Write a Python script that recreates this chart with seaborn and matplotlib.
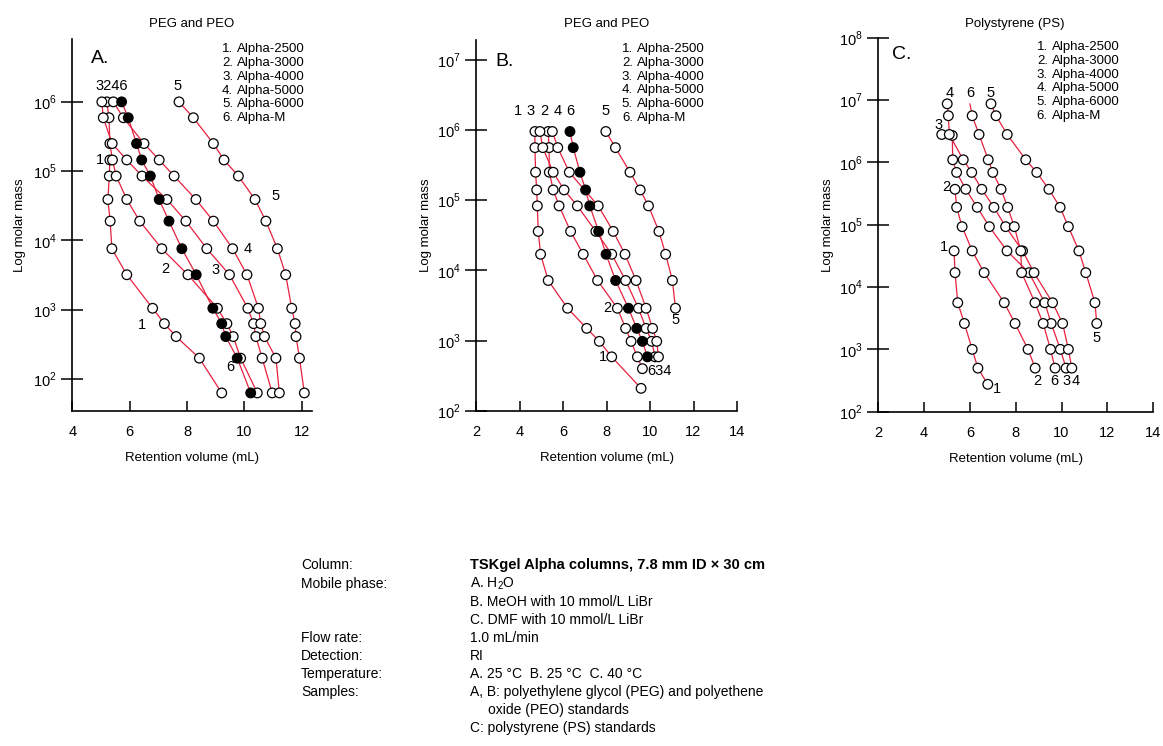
import pandas as pd
import seaborn as sns
import matplotlib.pyplot as plt
from matplotlib.ticker import NullLocator
from matplotlib.transforms import offset_copy

# molar mass levels (g/mol) and retention volumes (mL)
# panel A: PEG/PEO in water
A_MASS = [1.0e6, 5.9e5, 2.5e5, 1.45e5, 8.5e4, 3.9e4, 1.9e4, 7.6e3, 3.2e3, 1.05e3, 630, 410, 200, 63]
A_1 = [None, None, None, 5.31, 5.29, 5.24, 5.32, 5.38, 5.90, 6.80, 7.21, 7.62, 8.43, 9.21]
A_2 = [5.20, 5.28, 5.31, 5.40, 5.53, 5.90, 6.35, 7.12, 8.03, 9.06, 9.39, 9.61, 9.87, 10.45]
A_3 = [5.03, 5.08, 5.39, 5.90, 6.43, 7.30, 7.96, 8.69, 9.48, 10.12, 10.32, 10.40, 10.62, 10.97]
A_4 = [5.43, 5.78, 6.50, 7.03, 7.55, 8.31, 8.92, 9.59, 10.09, 10.49, 10.57, 10.70, 11.10, 11.22]
A_5 = [7.72, 8.22, 8.92, 9.29, 9.79, 10.37, 10.75, 11.15, 11.44, 11.65, 11.77, 11.80, 11.92, 12.09]
A_6 = [5.72, 5.95, 6.24, 6.42, 6.72, 7.03, 7.37, 7.82, 8.32, 8.90, 9.21, 9.35, 9.75, 10.22]

# panel B: PEG/PEO in MeOH
B_MASS = [9.5e5, 5.6e5, 2.5e5, 1.4e5, 8.3e4, 3.6e4, 1.7e4, 7.2e3, 2.9e3, 1.5e3, 980, 590, 400, 210]
B_1 = [4.71, 4.71, 4.74, 4.79, 4.82, 4.86, 4.97, 5.32, 6.21, 7.09, 7.67, 8.24, None, 9.59]
B_2 = [5.32, 5.36, 5.37, 5.55, 5.82, 6.35, 6.93, 7.59, 8.50, 8.88, 9.13, 9.42, 9.65, None]
B_3 = [4.94, 5.07, 5.55, 6.05, 6.66, 7.51, 8.24, 8.88, 9.47, 9.82, 10.08, 10.23, None, None]
B_4 = [5.51, 5.76, 6.29, None, 7.62, 8.31, 8.85, 9.36, 9.82, 10.12, 10.31, 10.39, None, None]
B_5 = [7.97, 8.41, 9.08, 9.55, 9.93, 10.41, 10.72, 11.03, 11.17, None, None, None, None, None]
B_6 = [6.32, 6.47, 6.78, 7.04, 7.23, 7.64, 7.98, 8.42, 9.01, 9.39, 9.65, 9.88, None, None]

# panel C: polystyrene in DMF
C_MASS = [8.7e6, 5.6e6, 2.8e6, 2.7e6, 1.1e6, 6.9e5, 3.7e5, 1.9e5, 9.3e4, 3.8e4, 1.7e4, 5.6e3, 2.6e3, 1.0e3, 500, 275]
C_1 = [None, None, None, None, None, None, None, None, None, 5.31, 5.35, 5.47, 5.76, 6.10, 6.35, 6.78]
C_2 = [None, None, None, None, None, None, 5.35, 5.42, 5.66, 6.10, 6.62, 7.50, 7.97, 8.54, 8.85, None]
C_3 = [None, None, 4.77, 5.23, 5.25, 5.42, 5.82, 6.32, 6.85, 7.62, 8.58, 9.27, 9.55, 9.95, 10.20, None]
C_4 = [5.01, 5.06, 5.10, None, 5.71, 6.08, 6.52, 7.05, 7.56, 8.30, 8.80, 9.61, 10.05, 10.30, 10.45, None]
C_5 = [6.92, 7.14, 7.63, None, 8.44, 8.92, 9.45, 9.94, 10.30, 10.76, 11.06, 11.46, 11.54, None, None, None]
C_6 = [6.00, 6.10, 6.40, None, 6.80, 7.00, 7.36, 7.65, 7.94, 8.22, 8.26, 8.84, 9.20, 9.52, 9.72, None]
# the top of curve C-6 is drawn as line only (its point sits under the label)
C_6_HIDDEN = [0]

COLUMNS = ['Alpha-2500', 'Alpha-3000', 'Alpha-4000', 'Alpha-5000', 'Alpha-6000', 'Alpha-M']
TITLES = ['PEG and PEO', 'PEG and PEO', 'Polystyrene (PS)']
LETTERS = ['A.', 'B.', 'C.']

RED = '#e8203f'

sns.set_style('white')
plt.rcParams['font.family'] = ['Liberation Sans', 'DejaVu Sans']
plt.rcParams['mathtext.fontset'] = 'custom'
plt.rcParams['mathtext.rm'] = 'Liberation Sans'
for key in ['text.color', 'axes.labelcolor', 'xtick.color', 'ytick.color']:
    plt.rcParams[key] = 'black'


def long_table(mass, series, solid_last, hidden=None):
    hidden = hidden or {}
    rows = []
    for i, vols in enumerate(series):
        for j, (m, v) in enumerate(zip(mass, vols)):
            if v is None:
                continue
            fill = 'solid' if (solid_last and i == 5) else 'open'
            shown = j not in hidden.get(i + 1, [])
            rows.append({'series': i + 1, 'ml': v, 'mw': m, 'fill': fill, 'shown': shown})
    return pd.DataFrame(rows)


tables = [
    long_table(A_MASS, [A_1, A_2, A_3, A_4, A_5, A_6], True),
    long_table(B_MASS, [B_1, B_2, B_3, B_4, B_5, B_6], True),
    long_table(C_MASS, [C_1, C_2, C_3, C_4, C_5, C_6], False, {6: C_6_HIDDEN}),
]

W, H = 1163, 746
fig = plt.figure(figsize=(W / 100, H / 100), dpi=100)

# axes boxes in pixels: left, top, right, bottom
boxes = [(72.3, 38.8, 311.8, 410.7), (476, 40, 737, 411), (878.3, 37.7, 1153.1, 411.7)]
xlims = [(4, 12.35), (2, 14), (2, 14)]
ylims = [(10 ** 1.543, 10 ** 6.91), (1e2, 10 ** 7.28), (1e2, 1e8)]
xticks = [[4, 6, 8, 10, 12], [2, 4, 6, 8, 10, 12, 14], [2, 4, 6, 8, 10, 12, 14]]
ydecades = [range(2, 7), range(2, 8), range(2, 9)]

axes = []
for k in range(3):
    l, t, r, b = boxes[k]
    ax = fig.add_axes([l / W, 1 - b / H, (r - l) / W, (b - t) / H])
    ax.set_yscale('log')
    df = tables[k]
    sns.lineplot(data=df, x='ml', y='mw', units='series', estimator=None, sort=False,
                 color=RED, lw=0.9, ax=ax, legend=False, zorder=2)
    sns.scatterplot(data=df[df['shown']], x='ml', y='mw', hue='fill',
                    palette={'open': 'white', 'solid': 'black'},
                    edgecolor='black', linewidth=0.9, s=48, ax=ax, legend=False, zorder=3)
    ax.set_xlim(*xlims[k])
    ax.set_ylim(*ylims[k])
    ax.set_xticks(xticks[k])
    ax.set_xticklabels([str(v) for v in xticks[k]])
    ax.set_yticks([10.0 ** d for d in ydecades[k]])
    ax.set_yticklabels([f'10$^{{{d}}}$' for d in ydecades[k]])
    ax.yaxis.set_minor_locator(NullLocator())
    for s in ['top', 'right']:
        ax.spines[s].set_visible(False)
    for s in ['left', 'bottom']:
        ax.spines[s].set_linewidth(1.2)
        ax.spines[s].set_color('black')
    ax.tick_params(axis='y', direction='inout', length=16, width=1.1, pad=3, labelsize=10.5, left=True)
    ax.tick_params(axis='x', direction='in', length=7, width=1.1, pad=10, labelsize=10.5, bottom=True)
    ax.set_xlabel('Retention volume (mL)', fontsize=9.5)
    ax.set_ylabel('Log molar mass', fontsize=9.5)
    ax.xaxis.label.set_va('center')
    ax.yaxis.label.set_va('center')
    ax.xaxis.set_label_coords(0.5, -0.127)
    ax.patch.set_alpha(0)
    axes.append(ax)

axes[0].yaxis.set_label_coords(-0.22, 0.5)
axes[1].yaxis.set_label_coords(-0.19, 0.5)
axes[2].yaxis.set_label_coords(-0.183, 0.5)

# titles
for k, cx in enumerate([192, 607, 1015]):
    fig.text(cx / W, 1 - 24 / H, TITLES[k], ha='center', va='center', fontsize=9.5)

# legend lists and panel letters
legend_pos = [(0.625, 0.972, 0.0371), (0.559, 0.976, 0.0372), (0.577, 0.975, 0.0369)]
letter_pos = [(0.116, 0.948), (0.111, 0.941), (0.086, 0.954)]
for k, ax in enumerate(axes):
    x0, y0, dy = legend_pos[k]
    name_tr = offset_copy(ax.transAxes, fig=fig, x=15, y=0, units='dots')
    for i, name in enumerate(COLUMNS):
        ax.text(x0, y0 - i * dy, f'{i + 1}.', transform=ax.transAxes, ha='left', va='center', fontsize=9.5)
        ax.text(x0, y0 - i * dy, name, transform=name_tr, ha='left', va='center', fontsize=9.5)
    lx, ly = letter_pos[k]
    ax.text(lx, ly, LETTERS[k], transform=ax.transAxes, ha='center', va='center', fontsize=14)

# curve number labels (data coordinates: mL, log10 mass)
curve_labels = [
    [('3246', 5.38, 6.23), ('5', 7.66, 6.23),
     ('1', 4.97, 5.16), ('5', 11.10, 4.64), ('4', 10.10, 3.87), ('2', 7.23, 3.59), ('3', 8.98, 3.58),
     ('1', 6.42, 2.78), ('6', 9.52, 2.18)],
    [('1', 3.92, 6.27), ('3', 4.53, 6.27), ('2', 5.13, 6.27), ('4', 5.74, 6.27), ('6', 6.32, 6.27),
     ('5', 7.96, 6.27), ('2', 8.04, 3.47), ('1', 7.85, 2.77), ('634', 10.45, 2.57), ('5', 11.16, 3.30)],
    [('4', 5.13, 7.12), ('6', 6.03, 7.12), ('5', 6.92, 7.12), ('3', 4.62, 6.60), ('2', 4.96, 5.61),
     ('1', 4.88, 4.64), ('2', 8.96, 2.49), ('6', 9.67, 2.49), ('3', 10.23, 2.49), ('4', 10.63, 2.49),
     ('1', 7.20, 2.36), ('5', 11.54, 3.18)],
]
for k, ax in enumerate(axes):
    for txt, x, lg in curve_labels[k]:
        ax.text(x, 10 ** lg, txt, ha='center', va='center', fontsize=10.5)

# conditions block
left_col = [('Column:', 565), ('Mobile phase:', 584), ('Flow rate:', 638), ('Detection:', 656),
            ('Temperature:', 674), ('Samples:', 692)]
right_col = [('A. H$_2$O', 470, 584), ('B. MeOH with 10 mmol/L LiBr', 470, 602),
             ('C. DMF with 10 mmol/L LiBr', 470, 620), ('1.0 mL/min', 470, 638), ('RI', 470, 656),
             ('A. 25 °C  B. 25 °C  C. 40 °C', 470, 674),
             ('A, B: polyethylene glycol (PEG) and polyethene', 470, 692),
             ('oxide (PEO) standards', 488, 710), ('C: polystyrene (PS) standards', 470, 728)]
for txt, y in left_col:
    fig.text(301 / W, 1 - y / H, txt, ha='left', va='center', fontsize=10)
fig.text(470 / W, 1 - 565 / H, 'TSKgel Alpha columns, 7.8 mm ID × 30 cm', ha='left', va='center',
         fontsize=10.5, fontweight='bold')
for txt, x, y in right_col:
    fig.text(x / W, 1 - y / H, txt, ha='left', va='center', fontsize=10)

fig.savefig('out.png', dpi=100, facecolor='white')
